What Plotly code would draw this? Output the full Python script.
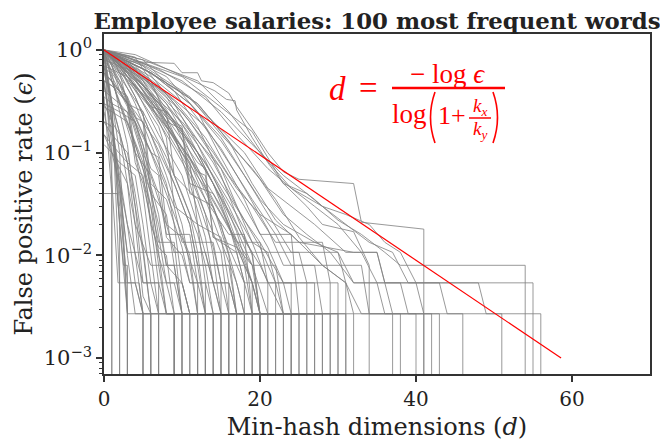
import plotly.graph_objects as go

# Each curve: (d, epsilon) breakpoints; eps 0 means the curve falls to zero
curves = [
    [(0, 0.5), (1, 0.12), (1, 0)],
    [(0, 0.35), (1, 0.04), (1, 0)],
    [(0, 0.7), (1, 0.3), (2, 0.02), (2, 0)],
    [(0, 0.9), (1, 0.3), (2, 0.0054), (2, 0)],
    [(0, 0.25), (1, 0.1), (2, 0.05), (3, 0.0027), (3, 0)],
    [(0, 0.04), (1.7, 0.04), (2.5, 0.008), (3, 0.008), (3, 0)],
    [(0, 1), (2, 0.1), (3, 0.0027), (3, 0)],
    [(0, 0.45), (1, 0.2), (2, 0.06), (3, 0.02), (4, 0.0054), (5, 0.0027), (5, 0)],
    [(0, 1), (1.8, 0.0054), (4.5, 0.0054), (5, 0.0027), (5, 0)],
    [(0, 0.3), (1, 0.2), (2, 0.15), (3, 0.05), (4, 0.01), (5, 0.0027), (6, 0.0027), (6, 0)],
    [(0, 0.8), (1, 0.3), (3, 0.08), (4, 0.02), (5, 0.004), (6, 0.0027), (6, 0)],
    [(0, 0.2), (1, 0.15), (3, 0.1), (4, 0.04), (5, 0.012), (6, 0.0027), (7, 0.0027), (7, 0)],
    [(0, 1), (1, 0.6), (2, 0.25), (3, 0.12), (4, 0.03), (5, 0.0054), (7, 0.0054), (7, 0)],
    [(0, 0.6), (1, 0.5), (2, 0.3), (4, 0.1), (5, 0.04), (6, 0.01), (7, 0.0027), (9, 0.0027), (9, 0)],
    [(0, 0.15), (1, 0.12), (3, 0.08), (5, 0.06), (6, 0.02), (7, 0.0054), (8, 0.0027), (9, 0.0027), (9, 0)],
    [(0, 0.6), (1, 0.3), (3, 0.08), (4, 0.03), (5, 0.0107), (7, 0.0107), (8, 0.0027), (9, 0.0027), (9, 0)],
    [(0, 0.35), (1, 0.3), (3, 0.25), (4, 0.1), (6, 0.03), (7, 0.008), (8, 0.0027), (10, 0.0027), (10, 0)],
    [(0, 1), (1, 0.7), (3, 0.3), (5, 0.12), (6, 0.045), (7, 0.015), (8, 0.0054), (9, 0.0027), (10, 0.0027), (10, 0)],
    [(0, 0.12), (1, 0.1), (2, 0.08), (4, 0.06), (5, 0.02), (6, 0.0054), (9, 0.0054), (10, 0.0027), (10, 0)],
    [(0, 0.8), (2, 0.5), (4, 0.2), (5, 0.1), (6, 0.02), (7, 0.012), (8, 0.01), (9, 0.0027), (11, 0.0027), (11, 0)],
    [(0, 1), (1, 0.5), (3, 0.2), (5, 0.07), (6, 0.03), (7, 0.0134), (9, 0.0134), (10, 0.0027), (11, 0.0027), (11, 0)],
    [(0, 0.5), (2, 0.4), (4, 0.22), (5, 0.2), (6, 0.04), (8, 0.025), (9, 0.008), (10, 0.0027), (12, 0.0027), (12, 0)],
    [(0, 0.28), (1, 0.25), (3, 0.2), (5, 0.08), (7, 0.02), (8, 0.008), (10, 0.0054), (11, 0.0027), (12, 0.0027), (12, 0)],
    [(0, 1), (1, 0.85), (2, 0.6), (3, 0.3), (5, 0.1), (7, 0.04), (8, 0.016), (11, 0.016), (12, 0.0054), (12, 0)],
    [(0, 1), (2, 0.6), (4, 0.3), (6, 0.12), (8, 0.05), (9, 0.02), (10, 0.0054), (11, 0.0027), (13, 0.0027), (13, 0)],
    [(0, 0.4), (2, 0.3), (4, 0.2), (6, 0.07), (7, 0.06), (8, 0.015), (10, 0.01), (11, 0.0054), (13, 0.0054), (13, 0)],
    [(0, 1), (1, 0.5), (2, 0.3), (4, 0.12), (6, 0.04), (7, 0.0107), (12, 0.0107), (13, 0.0027), (13, 0)],
    [(0, 1), (2, 0.7), (4, 0.35), (6, 0.15), (8, 0.06), (10, 0.02), (11, 0.008), (12, 0.0027), (14, 0.0027), (14, 0)],
    [(0, 0.65), (1, 0.6), (3, 0.35), (6, 0.1), (7, 0.09), (8, 0.02), (10, 0.015), (12, 0.0054), (13, 0.0027), (14, 0.0027), (14, 0)],
    [(0, 1), (1, 0.55), (3, 0.28), (5, 0.09), (7, 0.025), (8, 0.008), (13, 0.008), (14, 0.0027), (14, 0)],
    [(0, 1), (2, 0.65), (4, 0.35), (6, 0.15), (9, 0.05), (11, 0.02), (12, 0.008), (13, 0.0027), (15, 0.0027), (15, 0)],
    [(0, 1), (2, 0.5), (4, 0.22), (7, 0.07), (9, 0.03), (10, 0.0134), (14, 0.0134), (15, 0.0054), (15, 0)],
    [(0, 0.3), (2, 0.25), (4, 0.2), (6, 0.1), (9, 0.025), (11, 0.01), (12, 0.0027), (15, 0.0027), (15, 0)],
    [(0, 1), (3, 0.6), (5, 0.3), (7, 0.15), (10, 0.06), (12, 0.02), (13, 0.0054), (14, 0.0027), (16, 0.0027), (16, 0)],
    [(0, 1), (2, 0.75), (4, 0.4), (7, 0.18), (9, 0.06), (11, 0.025), (12, 0.0107), (15, 0.0107), (16, 0.0027), (16, 0)],
    [(0, 0.6), (1, 0.5), (3, 0.3), (5, 0.25), (6, 0.05), (8, 0.035), (10, 0.012), (11, 0.0054), (16, 0.0054), (16, 0)],
    [(0, 1), (3, 0.7), (6, 0.3), (8, 0.14), (9, 0.03), (12, 0.02), (14, 0.0054), (15, 0.0027), (17, 0.0027), (17, 0)],
    [(0, 1), (2, 0.55), (5, 0.25), (8, 0.09), (10, 0.04), (12, 0.016), (13, 0.008), (16, 0.008), (17, 0.0027), (17, 0)],
    [(0, 1), (3, 0.8), (5, 0.5), (8, 0.2), (11, 0.07), (13, 0.025), (14, 0.01), (15, 0.0027), (17, 0.0027), (17, 0)],
    [(0, 1), (3, 0.6), (6, 0.28), (8, 0.25), (9, 0.06), (12, 0.035), (14, 0.012), (15, 0.0054), (16, 0.0027), (18, 0.0027), (18, 0)],
    [(0, 1), (2, 0.7), (5, 0.35), (8, 0.15), (11, 0.06), (13, 0.025), (15, 0.0107), (17, 0.0107), (18, 0.0054), (18, 0)],
    [(0, 1), (4, 0.85), (6, 0.5), (9, 0.15), (11, 0.05), (13, 0.015), (14, 0.0054), (15, 0.0027), (18, 0.0027), (18, 0)],
    [(0, 0.8), (3, 0.65), (6, 0.32), (10, 0.1), (11, 0.08), (12, 0.02), (15, 0.015), (16, 0.0054), (17, 0.0027), (19, 0.0027), (19, 0)],
    [(0, 1), (2, 0.8), (5, 0.45), (8, 0.2), (11, 0.08), (13, 0.035), (16, 0.016), (18, 0.016), (19, 0.0027), (19, 0)],
    [(0, 0.5), (1, 0.45), (4, 0.25), (7, 0.12), (9, 0.05), (11, 0.02), (12, 0.008), (18, 0.008), (19, 0.0054), (19, 0)],
    [(0, 1), (3, 0.7), (7, 0.3), (10, 0.15), (12, 0.07), (14, 0.03), (16, 0.01), (17, 0.0027), (20, 0.0027), (20, 0)],
    [(0, 1), (4, 0.6), (8, 0.22), (10, 0.18), (11, 0.05), (14, 0.04), (16, 0.02), (17, 0.0107), (19, 0.0107), (20, 0.0027), (20, 0)],
    [(0, 1), (2, 0.85), (6, 0.45), (9, 0.2), (12, 0.06), (15, 0.02), (17, 0.0054), (18, 0.0027), (20, 0.0027), (20, 0)],
    [(0, 1), (4, 0.7), (8, 0.35), (11, 0.14), (14, 0.05), (16, 0.02), (18, 0.008), (19, 0.0027), (21, 0.0027), (21, 0)],
    [(0, 0.7), (3, 0.55), (7, 0.25), (10, 0.1), (13, 0.045), (15, 0.025), (17, 0.0134), (20, 0.0134), (21, 0.0054), (21, 0)],
    [(0, 1), (5, 0.7), (9, 0.3), (12, 0.12), (15, 0.04), (17, 0.017), (19, 0.0054), (20, 0.0027), (22, 0.0027), (22, 0)],
    [(0, 0.9), (2, 0.6), (6, 0.32), (9, 0.15), (12, 0.065), (13, 0.06), (14, 0.015), (17, 0.0107), (18, 0.0054), (22, 0.0054), (22, 0)],
    [(0, 1), (5, 0.8), (9, 0.4), (12, 0.18), (15, 0.06), (17, 0.025), (19, 0.01), (20, 0.0027), (23, 0.0027), (23, 0)],
    [(0, 1), (4, 0.65), (8, 0.3), (11, 0.12), (14, 0.05), (17, 0.018), (19, 0.008), (22, 0.008), (23, 0.0027), (23, 0)],
    [(0, 1), (3, 0.55), (7, 0.22), (10, 0.09), (13, 0.035), (15, 0.014), (17, 0.0054), (18, 0.0027), (24, 0.0027), (24, 0)],
    [(0, 1), (3, 0.75), (7, 0.45), (11, 0.2), (15, 0.07), (17, 0.03), (19, 0.0134), (21, 0.0054), (24, 0.0054), (24, 0)],
    [(0, 1), (4, 0.5), (8, 0.22), (12, 0.08), (13, 0.07), (14, 0.015), (17, 0.012), (19, 0.008), (21, 0.0027), (25, 0.0027), (25, 0)],
    [(0, 1), (3, 0.85), (8, 0.55), (12, 0.25), (15, 0.09), (18, 0.035), (20, 0.016), (24, 0.016), (25, 0.0027), (25, 0)],
    [(0, 1), (4, 0.45), (8, 0.18), (12, 0.07), (15, 0.03), (17, 0.012), (19, 0.0054), (20, 0.0027), (26, 0.0027), (26, 0)],
    [(0, 1), (3, 0.6), (7, 0.3), (11, 0.12), (14, 0.05), (17, 0.02), (19, 0.0107), (25, 0.0107), (26, 0.0054), (26, 0)],
    [(0, 1), (5, 0.5), (9, 0.2), (13, 0.08), (16, 0.03), (18, 0.014), (20, 0.008), (23, 0.0027), (27, 0.0027), (27, 0)],
    [(0, 1), (4, 0.6), (8, 0.3), (12, 0.12), (15, 0.05), (18, 0.022), (20, 0.0134), (23, 0.0054), (27, 0.0054), (27, 0)],
    [(0, 1), (4, 0.5), (8, 0.2), (10, 0.17), (11, 0.04), (14, 0.03), (16, 0.012), (18, 0.0054), (19, 0.0027), (28, 0.0027), (28, 0)],
    [(0, 1), (3, 0.65), (8, 0.38), (13, 0.18), (16, 0.08), (19, 0.035), (22, 0.016), (24, 0.008), (27, 0.008), (28, 0.0027), (28, 0)],
    [(0, 1), (4, 0.55), (8, 0.25), (12, 0.1), (15, 0.035), (17, 0.014), (19, 0.008), (20, 0.0027), (29, 0.0027), (29, 0)],
    [(0, 1), (5, 0.45), (10, 0.17), (14, 0.06), (17, 0.025), (19, 0.0134), (21, 0.0107), (22, 0.0054), (29, 0.0054), (29, 0)],
    [(0, 1), (3, 0.5), (7, 0.22), (11, 0.09), (14, 0.035), (17, 0.014), (19, 0.0054), (20, 0.0027), (30, 0.0027), (30, 0)],
    [(0, 1), (4, 0.65), (9, 0.32), (13, 0.14), (16, 0.06), (19, 0.03), (22, 0.0134), (28, 0.0134), (29, 0.0054), (30, 0.0054), (30, 0)],
    [(0, 1), (5, 0.55), (10, 0.22), (14, 0.08), (17, 0.03), (20, 0.012), (22, 0.0054), (23, 0.0027), (31, 0.0027), (31, 0)],
    [(0, 1), (6, 0.6), (11, 0.3), (15, 0.14), (18, 0.06), (21, 0.025), (24, 0.0107), (30, 0.0107), (31, 0.0054), (31, 0)],
    [(0, 1), (5, 0.45), (10, 0.2), (15, 0.07), (18, 0.03), (21, 0.012), (23, 0.0054), (24, 0.0027), (32, 0.0027), (32, 0)],
    [(0, 1), (3, 0.85), (10, 0.55), (15, 0.28), (19, 0.16), (23, 0.05), (26, 0.03), (28, 0.02), (32, 0.017), (34, 0.008), (34, 0)],
    [(0, 1), (5, 0.8), (12, 0.5), (16, 0.25), (20, 0.1), (24, 0.045), (27, 0.03), (30, 0.02), (33, 0.0107), (35, 0.0054), (36, 0.0027), (37, 0.0027), (37, 0)],
    [(0, 1), (6, 0.55), (11, 0.27), (15, 0.11), (18, 0.045), (21, 0.018), (23, 0.008), (33, 0.008), (34, 0.0027), (38, 0.0027), (38, 0)],
    [(0, 1), (6, 0.6), (12, 0.3), (16, 0.13), (19, 0.05), (22, 0.022), (25, 0.0134), (32, 0.0107), (35, 0.0107), (36, 0.0054), (38, 0.0054), (39, 0.0027), (40, 0.0027), (40, 0)],
    [(0, 1), (3, 0.77), (9, 0.74), (10, 0.6), (12, 0.6), (12.5, 0.5), (14, 0.48), (16, 0.38), (17, 0.28), (19, 0.17), (21, 0.1), (23, 0.065), (25, 0.055), (30, 0.052), (32, 0.05), (33, 0.021), (41, 0.018), (41, 0)],
    [(0, 1), (6, 0.6), (11, 0.3), (15, 0.13), (18, 0.06), (20, 0.035), (23, 0.02), (27, 0.0134), (30, 0.0107), (32, 0.0054), (36, 0.0054), (37, 0.0027), (41, 0.0027), (41, 0)],
    [(0, 1), (5, 0.7), (10, 0.4), (14, 0.2), (18, 0.1), (21, 0.045), (24, 0.03), (27, 0.02), (31, 0.0107), (35, 0.0107), (36, 0.0054), (40, 0.0054), (41, 0.0027), (42, 0.0027), (42, 0)],
    [(0, 1), (4, 0.9), (14.2, 0.4), (15.7, 0.33), (16.8, 0.32), (17, 0.26), (19, 0.14), (21, 0.08), (23, 0.05), (26, 0.04), (28, 0.03), (31, 0.025), (34, 0.02), (36, 0.0134), (38, 0.0107), (40, 0.0054), (43, 0.0054), (44, 0.0027), (46, 0.0027), (46, 0)],
    [(0, 1), (5, 0.55), (10, 0.25), (14, 0.1), (17, 0.045), (20, 0.025), (24, 0.016), (28, 0.008), (31, 0.0054), (32, 0.0027), (43, 0.0027), (43, 0)],
    [(0, 1), (7, 0.65), (13, 0.35), (17, 0.15), (21, 0.07), (24, 0.045), (28, 0.03), (31, 0.02), (34, 0.0134), (37, 0.0107), (39, 0.0054), (48, 0.0054), (49, 0.0027), (51, 0.0027), (51, 0)],
    [(0, 1), (4, 0.8), (10, 0.5), (15, 0.25), (19, 0.12), (23, 0.06), (27, 0.035), (30, 0.022), (33, 0.016), (36, 0.0107), (38, 0.008), (54, 0.008), (54, 0)],
    [(0, 1), (6, 0.6), (12, 0.3), (16, 0.13), (20, 0.055), (23, 0.025), (26, 0.016), (29, 0.0107), (32, 0.0054), (55, 0.0054), (55, 0)],
    [(0, 1), (5, 0.65), (11, 0.35), (15, 0.15), (19, 0.07), (22, 0.035), (25, 0.015), (28, 0.008), (31, 0.0054), (33, 0.0027), (56, 0.0027), (56, 0)],
    [(0, 1), (1, 0.2), (2, 0.02), (3, 0.0027), (24, 0.0027), (24, 0)],
    [(0, 1), (1, 0.25), (2, 0.03), (3, 0.0054), (4, 0.0054), (5, 0.0027), (5, 0)],
    [(0, 0.7), (1, 0.2), (2, 0.05), (3, 0.01), (4, 0.0027), (6, 0.0027), (6, 0)],
    [(0, 0.5), (1, 0.15), (2, 0.04), (3, 0.0107), (5, 0.0107), (6, 0.0027), (7, 0.0027), (7, 0)],
    [(0, 0.2), (1, 0.18), (2, 0.05), (3, 0.02), (5, 0.0054), (6, 0.0054), (7, 0.0027), (9, 0.0027), (9, 0)],
    [(0, 0.9), (1, 0.7), (2, 0.4), (3, 0.3), (4, 0.08), (5, 0.05), (7, 0.01), (8, 0.0054), (10, 0.0054), (11, 0.0027), (12, 0.0027), (12, 0)],
    [(0, 0.15), (1, 0.1), (3, 0.05), (4, 0.02), (6, 0.008), (9, 0.008), (10, 0.0027), (13, 0.0027), (13, 0)],
    [(0, 0.6), (2, 0.4), (3, 0.35), (4, 0.1), (6, 0.06), (8, 0.02), (9, 0.0107), (13, 0.0107), (14, 0.0054), (16, 0.0054), (17, 0.0027), (20, 0.0027), (20, 0)],
]

# theoretical bound d = -log(eps) / log(1 + kx/ky)
red_d = [0, 58.6]
red_eps = [1.0, 0.001]

ZERO_FLOOR = 1e-6  # zeros can't live on a log axis, push them below the frame

fig = go.Figure()
for c in curves:
    xs = [p[0] for p in c]
    ys = [p[1] if p[1] > 0 else ZERO_FLOOR for p in c]
    fig.add_trace(go.Scatter(x=xs, y=ys, mode='lines',
                             line=dict(color='rgba(128,128,128,0.8)', width=1),
                             showlegend=False, hoverinfo='skip'))

fig.add_trace(go.Scatter(x=red_d, y=red_eps, mode='lines',
                         line=dict(color='red', width=1.2), showlegend=False))

# page puts the figure 8px in from the corner, so the figure is 8px smaller
OFF = 8
W, H = 668 - OFF, 446 - OFF
L, R, T, B = 104, 650, 34, 374  # plot frame in window pixels


def px(x):
    return (x - L) / (R - L)


def py(y):
    return (B - y) / (B - T)


red = 'red'
mfont = 'Liberation Serif'
annots = [
    dict(x=337, y=89, text='<i>d</i>', size=33),
    dict(x=368, y=88, text='=', size=33),
    dict(x=447, y=74, text='− log <i>ϵ</i>', size=27),
    dict(x=409, y=114, text='log', size=27),
    dict(x=452, y=115, text='1+', size=26),
    dict(x=480, y=107, text='<i>k<sub>x</sub></i>', size=19),
    dict(x=480, y=130, text='<i>k<sub>y</sub></i>', size=19),
]
for a in annots:
    fig.add_annotation(x=px(a['x']), y=py(a['y']), xref='paper', yref='paper', text=a['text'],
                       showarrow=False, xanchor='center', yanchor='middle',
                       font=dict(family=mfont, size=a['size'], color=red))

fig.add_shape(type='line', xref='paper', yref='paper', x0=px(392), x1=px(505), y0=py(88), y1=py(88),
              line=dict(color=red, width=2.5))
fig.add_shape(type='line', xref='paper', yref='paper', x0=px(469), x1=px(491), y0=py(118), y1=py(118),
              line=dict(color=red, width=1.5))
# tall brackets round 1 + kx/ky
for x_end, x_mid in [(435, 426), (493, 502)]:
    fig.add_shape(type='path', xref='paper', yref='paper',
                  path=f'M {px(x_end)},{py(92)} Q {px(x_mid)},{py(117.5)} {px(x_end)},{py(143)}',
                  line=dict(color=red, width=1.6))

minor_vals = [k * 10 ** e for e in range(-4, 1) for k in range(2, 10)]

serif = 'DejaVu Serif'
fig.update_layout(
    title=dict(text='<b>Employee salaries: 100 most frequent words</b>', x=0.5, xref='paper',
               y=1 - 13 / H, yanchor='middle', font=dict(family=serif, size=22.8, color='#222')),
    width=W, height=H,
    margin=dict(l=L - OFF, r=668 - R, t=T - OFF, b=446 - B),
    plot_bgcolor='white', paper_bgcolor='white',
    font=dict(family=serif, color='#222'),
    xaxis=dict(
        range=[0, 70], tickvals=[0, 20, 40, 60], ticks='outside', ticklen=6, tickwidth=1.5,
        tickcolor='#333', showline=True, linecolor='#333', linewidth=1.5, mirror=True,
        showgrid=False, zeroline=False, tickfont=dict(size=20), automargin=False,
        title=dict(text='Min-hash dimensions (<i>d</i>)', font=dict(size=24), standoff=8),
    ),
    yaxis=dict(
        type='log', range=[-3.155, 0.155], tickvals=[1, 0.1, 0.01, 0.001],
        ticktext=['10<sup>0</sup>', '10<sup>−1</sup>', '10<sup>−2</sup>', '10<sup>−3</sup>'],
        ticks='outside', ticklen=6, tickwidth=1.5, tickcolor='#333',
        minor=dict(tickvals=minor_vals, ticks='outside', ticklen=3, tickcolor='#333', tickwidth=1),
        showline=True, linecolor='#333', linewidth=1.5, mirror=True, automargin=False,
        showgrid=False, zeroline=False, tickfont=dict(size=21),
        title=dict(text='False positive rate (<i>ϵ</i>)', font=dict(size=24), standoff=4),
    ),
)

fig.write_html('out.html')
